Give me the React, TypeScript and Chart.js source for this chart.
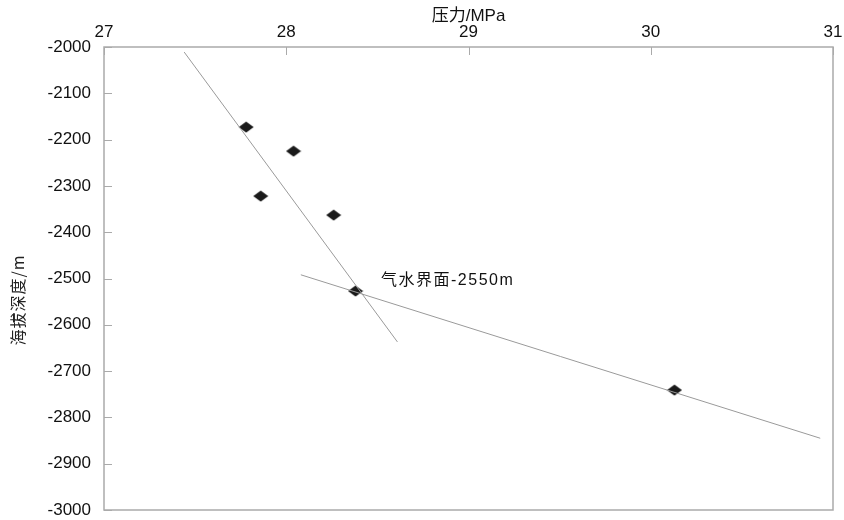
import React, { useEffect, useRef } from "react";
import { Chart, registerables } from "chart.js";

Chart.register(...registerables);

// Measured points: pressure (MPa) vs. elevation depth (m)
const pressure = [27.78, 28.04, 27.86, 28.26, 28.38, 30.13];
const depth = [-2173, -2225, -2322, -2363, -2527, -2741];

// Gas gradient line
const gasLineX = [27.44, 28.61];
const gasLineY = [-2011, -2637];

// Water gradient line
const waterLineX = [28.08, 30.93];
const waterLineY = [-2492, -2845];

// Annotation
const contactLabel = "气水界面-2550m";
const contactLabelX = 28.52;
const contactLabelY = -2504;

const xTicks = [27, 28, 29, 30, 31];
const yTicks = [-2000, -2100, -2200, -2300, -2400, -2500, -2600, -2700, -2800, -2900, -3000];

const xTitle = "压力/MPa";
const yTitle = "海拔深度/m";

function makeDiamond(): HTMLCanvasElement {
  const c = document.createElement("canvas");
  const w = 16;
  const h = 12;
  c.width = w;
  c.height = h;
  const ctx = c.getContext("2d")!;
  ctx.fillStyle = "#1a1a1a";
  ctx.beginPath();
  ctx.moveTo(w / 2, 0.5);
  ctx.lineTo(w - 0.5, h / 2);
  ctx.lineTo(w / 2, h - 0.5);
  ctx.lineTo(0.5, h / 2);
  ctx.closePath();
  ctx.fill();
  return c;
}

const frameAndTicks = {
  id: "frameAndTicks",
  afterDatasetsDraw(chart: any) {
    const { ctx, chartArea } = chart;
    const xs = chart.scales.x;
    const ys = chart.scales.y;
    ctx.save();
    ctx.strokeStyle = "#aaaaaa";
    ctx.lineWidth = 1.5;
    ctx.strokeRect(chartArea.left, chartArea.top, chartArea.right - chartArea.left, chartArea.bottom - chartArea.top);
    ctx.beginPath();
    for (const v of xTicks) {
      const px = Math.round(xs.getPixelForValue(v)) + 0.5;
      ctx.moveTo(px, chartArea.top);
      ctx.lineTo(px, chartArea.top + 8);
    }
    for (const v of yTicks) {
      const py = Math.round(ys.getPixelForValue(v)) + 0.5;
      ctx.moveTo(chartArea.left, py);
      ctx.lineTo(chartArea.left + 8, py);
    }
    ctx.lineWidth = 1;
    ctx.stroke();

    // annotation
    ctx.fillStyle = "#111";
    ctx.font = "16px 'Liberation Sans', 'Noto Sans CJK SC', sans-serif";
    (ctx as any).letterSpacing = "1.5px";
    ctx.textBaseline = "middle";
    ctx.textAlign = "left";
    ctx.fillText(contactLabel, xs.getPixelForValue(contactLabelX), ys.getPixelForValue(contactLabelY));

    // y-axis title
    (ctx as any).letterSpacing = "1px";
    ctx.font = "16px 'Noto Sans CJK SC', sans-serif";
    ctx.fillStyle = "#222";
    ctx.translate(18, 300);
    ctx.rotate(-Math.PI / 2);
    ctx.textAlign = "center";
    ctx.textBaseline = "middle";
    ctx.fillText(yTitle, 0, 0);
    ctx.restore();
  },
};

export default function App() {
  const ref = useRef<HTMLCanvasElement | null>(null);
  useEffect(() => {
    if (!ref.current) return;
    const diamond = makeDiamond();
    const chart = new Chart(ref.current, {
      type: "scatter",
      data: {
        datasets: [
          {
            label: "gas",
            data: gasLineX.map((x, i) => ({ x, y: gasLineY[i] })),
            showLine: true,
            borderColor: "#9a9a9a",
            borderWidth: 1,
            pointRadius: 0,
          },
          {
            label: "water",
            data: waterLineX.map((x, i) => ({ x, y: waterLineY[i] })),
            showLine: true,
            borderColor: "#9a9a9a",
            borderWidth: 1,
            pointRadius: 0,
          },
          {
            label: "points",
            data: pressure.map((x, i) => ({ x, y: depth[i] })),
            pointStyle: diamond as any,
            pointRadius: 8,
            backgroundColor: "#1a1a1a",
          },
        ],
      },
      options: {
        animation: false,
        responsive: false,
        maintainAspectRatio: false,
        layout: { padding: { left: 0, top: 0, right: 11, bottom: 10 } },
        plugins: { legend: { display: false }, tooltip: { enabled: false } },
        scales: {
          x: {
            type: "linear",
            position: "top",
            min: 27,
            max: 31,
            afterBuildTicks: (s: any) => {
              s.ticks = xTicks.map((v) => ({ value: v }));
            },
            afterFit: (s: any) => {
              s.height = 47;
              s.paddingLeft = 0;
              s.paddingRight = 0;
            },
            grid: { display: false, drawTicks: false },
            border: { display: false },
            ticks: {
              padding: 4,
              color: "#111",
              font: { family: "'Liberation Sans', Arial, sans-serif", size: 17 },
              maxRotation: 0,
              callback: (v: any) => String(v),
            },
            title: {
              display: true,
              text: xTitle,
              color: "#111",
              font: { family: "'Liberation Sans', 'Noto Sans CJK SC', sans-serif", size: 17 },
              padding: { top: 6, bottom: 0 },
            },
          },
          y: {
            type: "linear",
            min: -3000,
            max: -2000,
            afterBuildTicks: (s: any) => {
              s.ticks = yTicks.map((v) => ({ value: v }));
            },
            afterFit: (s: any) => {
              s.width = 104;
              s.paddingTop = 0;
              s.paddingBottom = 0;
            },
            grid: { display: false, drawTicks: false },
            border: { display: false },
            ticks: {
              padding: 13,
              color: "#111",
              font: { family: "'Liberation Sans', Arial, sans-serif", size: 17 },
              callback: (v: any) => String(v),
            },
            title: { display: false },
          },
        },
      },
      plugins: [frameAndTicks],
    });
    return () => chart.destroy();
  }, []);
  return (
    <div style={{ position: "fixed", left: 0, top: 0, width: 844, height: 520, background: "#fff" }}>
      <canvas ref={ref} width={844} height={520} style={{ display: "block", width: 844, height: 520 }} />
    </div>
  );
}
